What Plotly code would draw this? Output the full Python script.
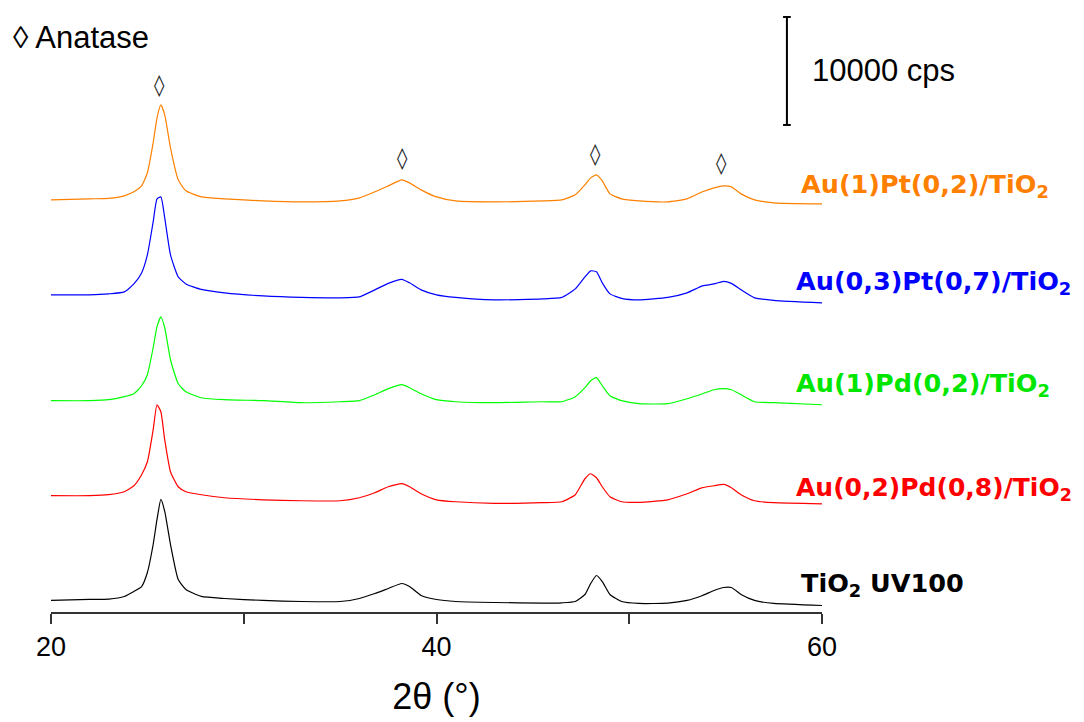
import plotly.graph_objects as go

# 2-theta sampling positions (degrees)
two_theta = [20.0, 22.0, 23.0, 23.8, 24.3, 24.7, 25.0, 25.3, 25.5, 25.7,
             25.9, 26.2, 26.6, 27.0, 27.8, 29.0, 31.0, 33.0, 35.0, 36.0,
             36.8, 37.5, 38.2, 38.6, 39.2, 40.0, 41.0, 43.0, 45.5, 46.5,
             47.2, 47.7, 48.0, 48.3, 48.6, 49.0, 49.6, 50.5, 52.0, 53.0,
             53.8, 54.4, 54.9, 55.3, 55.8, 56.5, 57.5, 60.0]

# Intensities (cps) of each sample
tio2_uv100 = [1070, 1160, 1200, 1440, 1900, 2360, 3660, 6250, 8570, 10420,
              9310, 6250, 3010, 2080, 1440, 1250, 1070, 970, 970, 1250,
              1710, 2180, 2640, 2360, 1530, 1160, 970, 880, 820, 850,
              970, 1620, 2640, 3380, 2820, 1620, 970, 790, 820, 1070,
              1530, 1990, 2270, 2270, 1620, 1070, 790, 600]
au02_pd08 = [1070, 1070, 1160, 1440, 1990, 3010, 4210, 7180, 9490, 8840,
             6250, 3290, 1900, 1440, 1160, 880, 690, 600, 600, 880,
             1340, 1900, 2180, 1900, 1250, 690, 510, 360, 420, 510,
             1160, 2640, 3100, 2730, 1900, 970, 510, 450, 690, 1250,
             1810, 1990, 2120, 1810, 1160, 600, 420, 320]
au1_pd02 = [1070, 1070, 1160, 1440, 1710, 2450, 3470, 5970, 7920, 8840,
            7820, 4860, 2640, 1900, 1340, 1160, 1070, 880, 970, 1070,
            1620, 2180, 2550, 2270, 1710, 1160, 970, 880, 970, 970,
            1440, 2270, 2920, 3200, 2450, 1530, 1070, 790, 790, 1250,
            1710, 2080, 2180, 2080, 1620, 970, 880, 690]
au03_pt07 = [1070, 1070, 1160, 1340, 2080, 3100, 4770, 7820, 9960, 10140,
             8200, 4770, 2730, 2080, 1570, 1250, 970, 830, 790, 880,
             1530, 2130, 2500, 2180, 1530, 1070, 830, 600, 690, 830,
             1620, 2730, 3290, 3200, 2180, 1160, 740, 600, 830, 1250,
             1900, 2080, 2320, 2130, 1530, 790, 560, 320]
au1_pt02 = [1070, 1160, 1200, 1440, 1810, 2360, 3570, 6340, 8660, 9860,
            8940, 5880, 2920, 1900, 1340, 1160, 970, 880, 970, 1250,
            1810, 2360, 2920, 2640, 1990, 1340, 970, 880, 970, 1070,
            1530, 2450, 3100, 3380, 2820, 1620, 1160, 970, 880, 1160,
            1810, 2180, 2360, 2270, 1620, 1070, 790, 690]

series_names = ["TiO<sub>2</sub> UV100", "Au(0,2)Pd(0,8)/TiO<sub>2</sub>",
                "Au(1)Pd(0,2)/TiO<sub>2</sub>", "Au(0,3)Pt(0,7)/TiO<sub>2</sub>",
                "Au(1)Pt(0,2)/TiO<sub>2</sub>"]
series_values = [tio2_uv100, au02_pd08, au1_pd02, au03_pt07, au1_pt02]
series_offsets = [0, 9700, 18500, 28300, 37100]  # vertical stacking (cps)
series_colors = ["#000000", "#FF0000", "#00FF00", "#0000FF", "#FF8000"]
label_colors = ["#000000", "#FF0000", "#00E600", "#0000FF", "#FF8000"]

# Anatase reflections marked with a lozenge (2theta, cps height of mark)
anatase_x = [25.65, 38.26, 48.27, 54.81]
anatase_y = [48800, 42040, 42410, 41580]

scale_bar_x = 58.18
scale_bar_y0 = 45100
scale_bar_len = 10000

x_ticks = [20, 30, 40, 50, 60]
x_ticktext = ["20", "", "40", "", "60"]

fig = go.Figure()
for vals, off, col, name in zip(series_values, series_offsets, series_colors, series_names):
    fig.add_trace(go.Scatter(
        x=two_theta, y=[v + off for v in vals], mode="lines",
        line=dict(color=col, width=1.2, shape="spline", smoothing=0.5),
        name=name, showlegend=False, hoverinfo="skip"))

# right-hand labels
label_starts = [58.8, 58.55, 58.55, 58.55, 58.8]
label_y = [2550, 11350, 21100, 30500, 39500]
label_sizes = [25.5, 25, 25.5, 25.5, 25.5]
for name, col, lx, ly, ls in zip(series_names, label_colors, label_starts, label_y, label_sizes):
    fig.add_annotation(x=lx, y=ly, xref="x", yref="y", text="<b>" + name + "</b>",
                       showarrow=False, xanchor="left", yanchor="middle",
                       font=dict(family="DejaVu Sans", size=ls, color=col))

# anatase marks
for ax_, ay_ in zip(anatase_x, anatase_y):
    fig.add_annotation(x=ax_, y=ay_, xref="x", yref="y", text="\u25CA",
                       showarrow=False, xanchor="center", yanchor="middle",
                       font=dict(family="DejaVu Sans", size=21, color="#222222"))

fig.add_annotation(xref="x domain", yref="y domain", x=-0.052, y=0.955,
                   text="\u25CA Anatase", showarrow=False,
                   xanchor="left", yanchor="middle",
                   font=dict(family="Liberation Sans", size=31, color="#000000"))

# scale bar
fig.add_shape(type="line", xref="x", yref="y", x0=scale_bar_x, x1=scale_bar_x,
              y0=scale_bar_y0, y1=scale_bar_y0 + scale_bar_len,
              line=dict(color="#000000", width=2))
for yy in (scale_bar_y0, scale_bar_y0 + scale_bar_len):
    fig.add_shape(type="line", xref="x", yref="y", x0=scale_bar_x - 0.2, x1=scale_bar_x + 0.2,
                  y0=yy, y1=yy, line=dict(color="#000000", width=2))
fig.add_annotation(x=scale_bar_x + 1.2, y=scale_bar_y0 + scale_bar_len / 2, xref="x", yref="y",
                   text="10000 cps", showarrow=False, xanchor="left", yanchor="middle",
                   font=dict(family="Liberation Sans", size=31, color="#000000"))

fig.update_layout(
    width=1084, height=722, autosize=False,
    margin=dict(l=43, r=270, t=2, b=118),
    paper_bgcolor="white", plot_bgcolor="white",
    xaxis=dict(range=[20, 60], tickvals=x_ticks, ticktext=x_ticktext,
               ticks="outside", ticklen=10, tickwidth=2, tickcolor="#333333",
               showline=True, linecolor="#333333", linewidth=2,
               showgrid=False, zeroline=False,
               tickfont=dict(family="Liberation Sans", size=27, color="#000000"),
               title=dict(text="2\u03b8 (\u00b0)", standoff=22,
                          font=dict(family="Liberation Sans", size=36, color="#000000"))),
    yaxis=dict(range=[0, 55745], visible=False, showgrid=False, zeroline=False),
)

fig.write_html("out.html")
